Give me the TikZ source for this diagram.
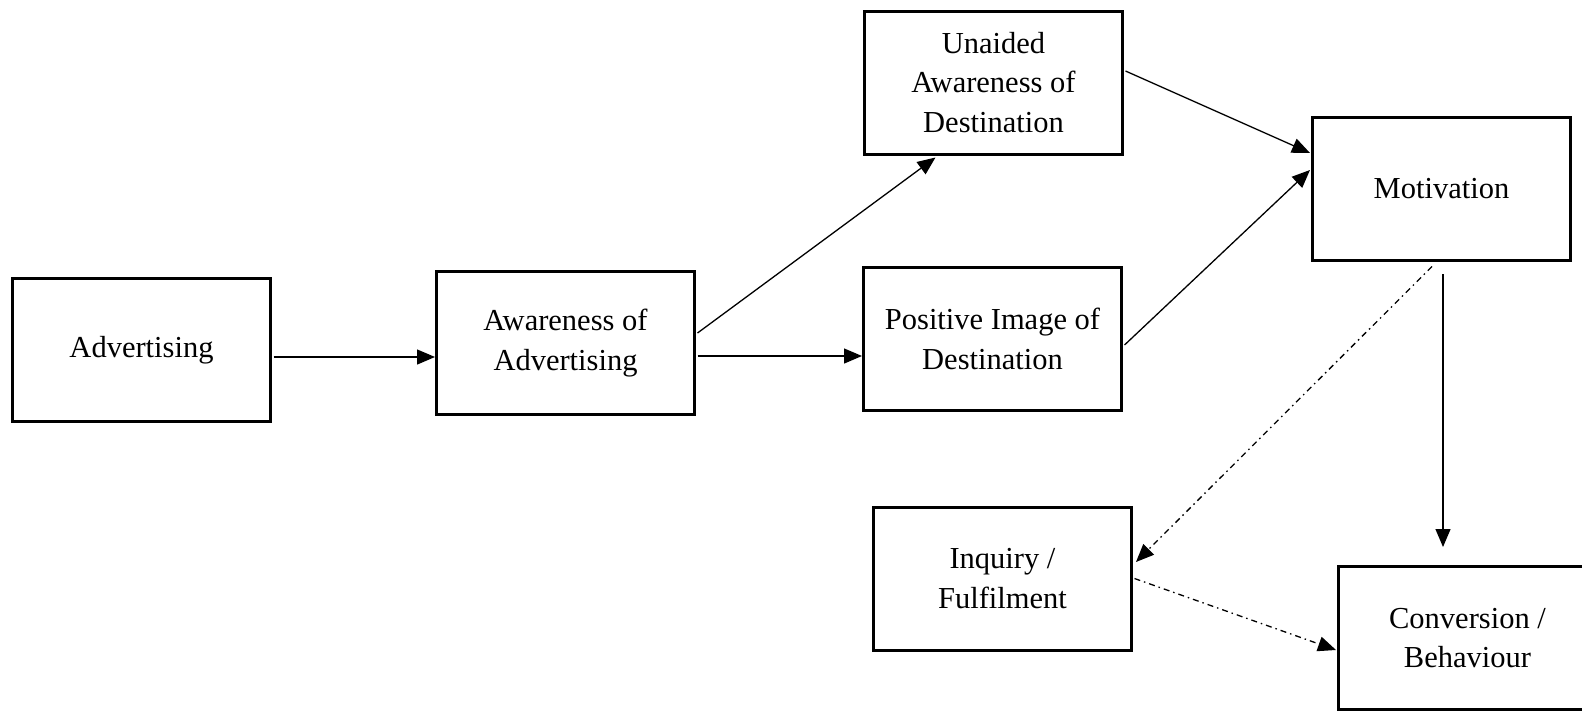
\documentclass[tikz,border=0pt]{standalone}
\usepackage{fontspec}
\setmainfont{Liberation Serif}
\usetikzlibrary{arrows.meta,calc}
\tikzset{
  box/.style={draw, line width=3pt, rectangle, inner sep=0pt,
    minimum width=258pt, minimum height=143pt, align=center,
    font=\fontsize{30.5}{39.4}\selectfont},
  link/.style={line width=1.3pt, -{Triangle[length=18pt,width=15pt]}},
  linkdd/.style={link, dash pattern=on 6pt off 4pt on 1.5pt off 4pt}
}
\begin{document}
\begin{tikzpicture}[x=1pt,y=-1pt]
\useasboundingbox (0,0) rectangle (1582,710);
\clip (0,0) rectangle (1582,710);
\fill[white] (0,0) rectangle (1582,710);

\node[box] (adv) at (141.5,350) {Advertising};
\node[box] (awa) at (565.5,343) {Awareness of\\Advertising};
\node[box] (una) at (993.5,82.5) {Unaided\\Awareness of\\Destination};
\node[box] (pos) at (992.5,339) {Positive Image of\\Destination};
\node[box] (mot) at (1441.5,189) {Motivation};
\node[box] (inq) at (1002.5,578.5) {Inquiry /\\Fulfilment};
\node[box] (con) at (1467.5,638) {Conversion /\\Behaviour};

\draw[link] ($(adv.east)+(1.5,7)$) -- ($(awa.west)+(0,14)$);
\draw[link] ($(awa.east)+(1.5,13)$) -- ($(pos.west)+(0,17)$);
\draw[link] ($(awa.east)+(1.5,-10)$) -- ($(una.south)+(-58,2)$);
\draw[link] ($(una.east)+(1.5,-11.5)$) -- ($(mot.west)+(-1,-36)$);
\draw[link] ($(pos.east)+(1.5,6)$) -- ($(mot.west)+(-1,-19)$);
\draw[link] ($(mot.south)+(1.5,12)$) -- ($(con.north)+(-24.5,-18)$);
\draw[linkdd] ($(mot.south)+(-9.5,4.5)$) -- ($(inq.east)+(3,-16.5)$);
\draw[linkdd] ($(inq.east)+(1.5,0)$) -- ($(con.west)+(-1,12)$);
\end{tikzpicture}
\end{document}
